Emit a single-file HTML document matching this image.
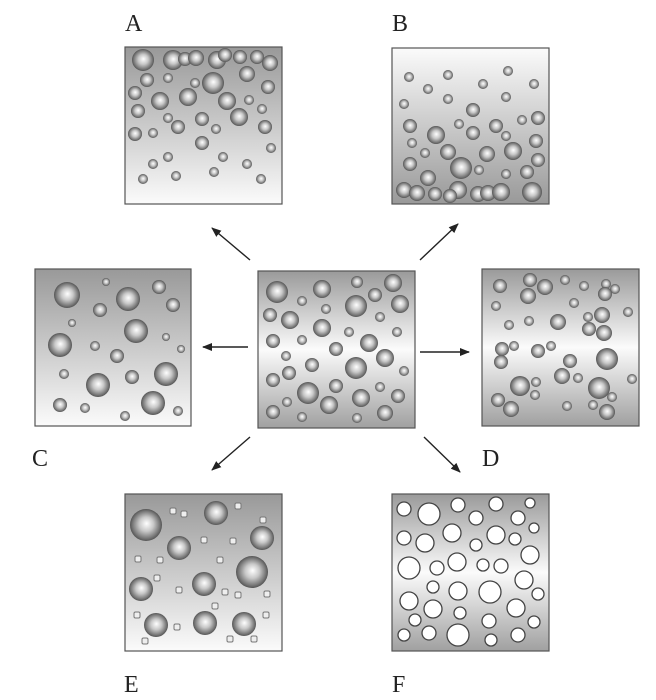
<!DOCTYPE html>
<html><head><meta charset="utf-8"><style>
html,body{margin:0;padding:0;background:#fff;}
svg{display:block;}
text{font-family:"Liberation Serif",serif;font-size:24px;fill:#222;}
</style></head><body>
<svg width="656" height="700" viewBox="0 0 656 700" xmlns="http://www.w3.org/2000/svg">
<defs>
<radialGradient id="b" cx="50%" cy="50%" r="50%" fx="52%" fy="45%">
<stop offset="0" stop-color="#fff"/><stop offset="0.45" stop-color="#c8c8c8"/><stop offset="0.85" stop-color="#777"/><stop offset="1" stop-color="#555"/>
</radialGradient>
<linearGradient id="gm" x1="0" y1="0" x2="0" y2="1"><stop offset="0" stop-color="#9a9a9a"/><stop offset="0.5" stop-color="#fbfbfb"/><stop offset="1" stop-color="#a0a0a0"/></linearGradient>
<linearGradient id="gd" x1="0" y1="0" x2="0" y2="1"><stop offset="0" stop-color="#999"/><stop offset="1" stop-color="#fbfbfb"/></linearGradient>
<linearGradient id="gu" x1="0" y1="0" x2="0" y2="1"><stop offset="0" stop-color="#fbfbfb"/><stop offset="1" stop-color="#999"/></linearGradient>
<marker id="ah" markerWidth="10" markerHeight="8" refX="9" refY="4" orient="auto" markerUnits="userSpaceOnUse"><path d="M0,0 L10,4 L0,8 Z" fill="#222"/></marker>
</defs>

<text x="125" y="31">A</text>
<text x="392" y="31">B</text>
<text x="32" y="466">C</text>
<text x="482" y="466">D</text>
<text x="124" y="692">E</text>
<text x="392" y="692">F</text>

<g stroke="#222" stroke-width="1.4" marker-end="url(#ah)">
<line x1="250" y1="260" x2="212" y2="228"/>
<line x1="420" y1="260" x2="458" y2="224"/>
<line x1="248" y1="347" x2="203" y2="347"/>
<line x1="420" y1="352" x2="469" y2="352"/>
<line x1="250" y1="437" x2="212" y2="470"/>
<line x1="424" y1="437" x2="460" y2="472"/>
</g>

<!-- A -->
<rect x="125" y="47" width="157" height="157" fill="url(#gd)" stroke="#555" stroke-width="1.2"/>
<g fill="url(#b)">
<circle cx="143" cy="60" r="11"/><circle cx="173" cy="60" r="10"/><circle cx="185" cy="59" r="7"/><circle cx="196" cy="58" r="8"/><circle cx="217" cy="60" r="9"/><circle cx="225" cy="55" r="7"/><circle cx="240" cy="57" r="7"/><circle cx="257" cy="57" r="7"/><circle cx="270" cy="63" r="8"/><circle cx="247" cy="74" r="8"/><circle cx="147" cy="80" r="7"/><circle cx="168" cy="78" r="5"/><circle cx="195" cy="83" r="5"/><circle cx="213" cy="83" r="11"/><circle cx="268" cy="87" r="7"/><circle cx="135" cy="93" r="7"/><circle cx="160" cy="101" r="9"/><circle cx="188" cy="97" r="9"/><circle cx="227" cy="101" r="9"/><circle cx="249" cy="100" r="5"/><circle cx="138" cy="111" r="7"/><circle cx="262" cy="109" r="5"/><circle cx="168" cy="118" r="5"/><circle cx="202" cy="119" r="7"/><circle cx="239" cy="117" r="9"/><circle cx="178" cy="127" r="7"/><circle cx="216" cy="129" r="5"/><circle cx="265" cy="127" r="7"/><circle cx="135" cy="134" r="7"/><circle cx="153" cy="133" r="5"/><circle cx="202" cy="143" r="7"/><circle cx="271" cy="148" r="5"/><circle cx="168" cy="157" r="5"/><circle cx="223" cy="157" r="5"/><circle cx="153" cy="164" r="5"/><circle cx="247" cy="164" r="5"/><circle cx="214" cy="172" r="5"/><circle cx="176" cy="176" r="5"/><circle cx="143" cy="179" r="5"/><circle cx="261" cy="179" r="5"/>
</g>

<!-- B -->
<rect x="392" y="48" width="157" height="156" fill="url(#gu)" stroke="#555" stroke-width="1.2"/>
<g fill="url(#b)">
<circle cx="409" cy="77" r="5"/><circle cx="448" cy="75" r="5"/><circle cx="508" cy="71" r="5"/><circle cx="428" cy="89" r="5"/><circle cx="483" cy="84" r="5"/><circle cx="534" cy="84" r="5"/><circle cx="404" cy="104" r="5"/><circle cx="448" cy="99" r="5"/><circle cx="506" cy="97" r="5"/><circle cx="473" cy="110" r="7"/><circle cx="410" cy="126" r="7"/><circle cx="459" cy="124" r="5"/><circle cx="496" cy="126" r="7"/><circle cx="522" cy="120" r="5"/><circle cx="538" cy="118" r="7"/><circle cx="436" cy="135" r="9"/><circle cx="473" cy="133" r="7"/><circle cx="506" cy="136" r="5"/><circle cx="412" cy="143" r="5"/><circle cx="536" cy="141" r="7"/><circle cx="425" cy="153" r="5"/><circle cx="448" cy="152" r="8"/><circle cx="487" cy="154" r="8"/><circle cx="513" cy="151" r="9"/><circle cx="538" cy="160" r="7"/><circle cx="410" cy="164" r="7"/><circle cx="461" cy="168" r="11"/><circle cx="479" cy="170" r="5"/><circle cx="527" cy="172" r="7"/><circle cx="428" cy="178" r="8"/><circle cx="506" cy="174" r="5"/>
<circle cx="404" cy="190" r="8"/><circle cx="417" cy="193" r="8"/><circle cx="435" cy="194" r="7"/><circle cx="458" cy="190" r="9"/><circle cx="450" cy="196" r="7"/><circle cx="478" cy="194" r="8"/><circle cx="488" cy="193" r="8"/><circle cx="501" cy="192" r="9"/><circle cx="532" cy="192" r="10"/>
</g>

<!-- C -->
<rect x="35" y="269" width="156" height="157" fill="url(#gd)" stroke="#555" stroke-width="1.2"/>
<g fill="url(#b)">
<circle cx="67" cy="295" r="13"/><circle cx="106" cy="282" r="4"/><circle cx="128" cy="299" r="12"/><circle cx="159" cy="287" r="7"/><circle cx="100" cy="310" r="7"/><circle cx="173" cy="305" r="7"/><circle cx="72" cy="323" r="4"/><circle cx="136" cy="331" r="12"/><circle cx="166" cy="337" r="4"/><circle cx="60" cy="345" r="12"/><circle cx="95" cy="346" r="5"/><circle cx="117" cy="356" r="7"/><circle cx="181" cy="349" r="4"/><circle cx="64" cy="374" r="5"/><circle cx="98" cy="385" r="12"/><circle cx="132" cy="377" r="7"/><circle cx="166" cy="374" r="12"/><circle cx="60" cy="405" r="7"/><circle cx="85" cy="408" r="5"/><circle cx="125" cy="416" r="5"/><circle cx="153" cy="403" r="12"/><circle cx="178" cy="411" r="5"/>
</g>

<!-- Center -->
<rect x="258" y="271" width="157" height="157" fill="url(#gm)" stroke="#555" stroke-width="1.2"/>
<g fill="url(#b)">
<circle cx="277" cy="292" r="11"/><circle cx="322" cy="289" r="9"/><circle cx="357" cy="282" r="6"/><circle cx="393" cy="283" r="9"/><circle cx="302" cy="301" r="5"/><circle cx="375" cy="295" r="7"/><circle cx="326" cy="309" r="5"/><circle cx="356" cy="306" r="11"/><circle cx="400" cy="304" r="9"/><circle cx="270" cy="315" r="7"/><circle cx="290" cy="320" r="9"/><circle cx="380" cy="317" r="5"/><circle cx="322" cy="328" r="9"/><circle cx="349" cy="332" r="5"/><circle cx="397" cy="332" r="5"/><circle cx="273" cy="341" r="7"/><circle cx="302" cy="340" r="5"/><circle cx="369" cy="343" r="9"/><circle cx="336" cy="349" r="7"/><circle cx="286" cy="356" r="5"/><circle cx="385" cy="358" r="9"/><circle cx="312" cy="365" r="7"/><circle cx="356" cy="368" r="11"/><circle cx="404" cy="371" r="5"/><circle cx="289" cy="373" r="7"/><circle cx="273" cy="380" r="7"/><circle cx="336" cy="386" r="7"/><circle cx="380" cy="387" r="5"/><circle cx="308" cy="393" r="11"/><circle cx="398" cy="396" r="7"/><circle cx="287" cy="402" r="5"/><circle cx="361" cy="398" r="9"/><circle cx="329" cy="405" r="9"/><circle cx="273" cy="412" r="7"/><circle cx="302" cy="417" r="5"/><circle cx="357" cy="418" r="5"/><circle cx="385" cy="413" r="8"/>
</g>

<!-- D -->
<rect x="482" y="269" width="157" height="157" fill="url(#gm)" stroke="#555" stroke-width="1.2"/>
<g fill="url(#b)">
<circle cx="500" cy="286" r="7"/><circle cx="530" cy="280" r="7"/><circle cx="545" cy="287" r="8"/><circle cx="528" cy="296" r="8"/><circle cx="565" cy="280" r="5"/><circle cx="584" cy="286" r="5"/><circle cx="606" cy="284" r="5"/><circle cx="615" cy="289" r="5"/><circle cx="605" cy="294" r="7"/><circle cx="496" cy="306" r="5"/><circle cx="574" cy="303" r="5"/><circle cx="628" cy="312" r="5"/><circle cx="509" cy="325" r="5"/><circle cx="529" cy="321" r="5"/><circle cx="558" cy="322" r="8"/><circle cx="588" cy="317" r="5"/><circle cx="602" cy="315" r="8"/><circle cx="589" cy="329" r="7"/><circle cx="604" cy="333" r="8"/><circle cx="502" cy="349" r="7"/><circle cx="514" cy="346" r="5"/><circle cx="538" cy="351" r="7"/><circle cx="551" cy="346" r="5"/><circle cx="501" cy="362" r="7"/><circle cx="607" cy="359" r="11"/><circle cx="570" cy="361" r="7"/><circle cx="562" cy="376" r="8"/><circle cx="578" cy="378" r="5"/><circle cx="520" cy="386" r="10"/><circle cx="536" cy="382" r="5"/><circle cx="535" cy="395" r="5"/><circle cx="632" cy="379" r="5"/><circle cx="599" cy="388" r="11"/><circle cx="498" cy="400" r="7"/><circle cx="511" cy="409" r="8"/><circle cx="567" cy="406" r="5"/><circle cx="593" cy="405" r="5"/><circle cx="612" cy="397" r="5"/><circle cx="607" cy="412" r="8"/>
</g>

<!-- E -->
<rect x="125" y="494" width="157" height="157" fill="url(#gd)" stroke="#555" stroke-width="1.2"/>
<g fill="url(#b)">
<circle cx="146" cy="525" r="16"/><circle cx="216" cy="513" r="12"/><circle cx="179" cy="548" r="12"/><circle cx="262" cy="538" r="12"/><circle cx="252" cy="572" r="16"/><circle cx="141" cy="589" r="12"/><circle cx="204" cy="584" r="12"/><circle cx="156" cy="625" r="12"/><circle cx="205" cy="623" r="12"/><circle cx="244" cy="624" r="12"/>
</g>
<g fill="#eee" stroke="#777" stroke-width="1">
<rect x="170" y="508" width="6" height="6" rx="1.5"/><rect x="181" y="511" width="6" height="6" rx="1.5"/><rect x="235" y="503" width="6" height="6" rx="1.5"/><rect x="260" y="517" width="6" height="6" rx="1.5"/><rect x="201" y="537" width="6" height="6" rx="1.5"/><rect x="230" y="538" width="6" height="6" rx="1.5"/><rect x="135" y="556" width="6" height="6" rx="1.5"/><rect x="157" y="557" width="6" height="6" rx="1.5"/><rect x="217" y="557" width="6" height="6" rx="1.5"/><rect x="154" y="575" width="6" height="6" rx="1.5"/><rect x="176" y="587" width="6" height="6" rx="1.5"/><rect x="222" y="589" width="6" height="6" rx="1.5"/><rect x="235" y="592" width="6" height="6" rx="1.5"/><rect x="264" y="591" width="6" height="6" rx="1.5"/><rect x="212" y="603" width="6" height="6" rx="1.5"/><rect x="134" y="612" width="6" height="6" rx="1.5"/><rect x="263" y="612" width="6" height="6" rx="1.5"/><rect x="174" y="624" width="6" height="6" rx="1.5"/><rect x="142" y="638" width="6" height="6" rx="1.5"/><rect x="227" y="636" width="6" height="6" rx="1.5"/><rect x="251" y="636" width="6" height="6" rx="1.5"/>
</g>

<!-- F -->
<rect x="392" y="494" width="157" height="157" fill="url(#gm)" stroke="#555" stroke-width="1.2"/>
<g fill="#fff" stroke="#444" stroke-width="1.3">
<circle cx="404" cy="509" r="7"/><circle cx="429" cy="514" r="11"/><circle cx="458" cy="505" r="7"/><circle cx="496" cy="504" r="7"/><circle cx="530" cy="503" r="5"/><circle cx="476" cy="518" r="7"/><circle cx="518" cy="518" r="7"/><circle cx="534" cy="528" r="5"/><circle cx="404" cy="538" r="7"/><circle cx="425" cy="543" r="9"/><circle cx="452" cy="533" r="9"/><circle cx="496" cy="535" r="9"/><circle cx="515" cy="539" r="6"/><circle cx="476" cy="545" r="6"/><circle cx="530" cy="555" r="9"/><circle cx="409" cy="568" r="11"/><circle cx="437" cy="568" r="7"/><circle cx="457" cy="562" r="9"/><circle cx="483" cy="565" r="6"/><circle cx="501" cy="566" r="7"/><circle cx="524" cy="580" r="9"/><circle cx="433" cy="587" r="6"/><circle cx="458" cy="591" r="9"/><circle cx="490" cy="592" r="11"/><circle cx="538" cy="594" r="6"/><circle cx="409" cy="601" r="9"/><circle cx="433" cy="609" r="9"/><circle cx="516" cy="608" r="9"/><circle cx="460" cy="613" r="6"/><circle cx="415" cy="620" r="6"/><circle cx="489" cy="621" r="7"/><circle cx="534" cy="622" r="6"/><circle cx="404" cy="635" r="6"/><circle cx="429" cy="633" r="7"/><circle cx="458" cy="635" r="11"/><circle cx="491" cy="640" r="6"/><circle cx="518" cy="635" r="7"/>
</g>
</svg>
</body></html>
